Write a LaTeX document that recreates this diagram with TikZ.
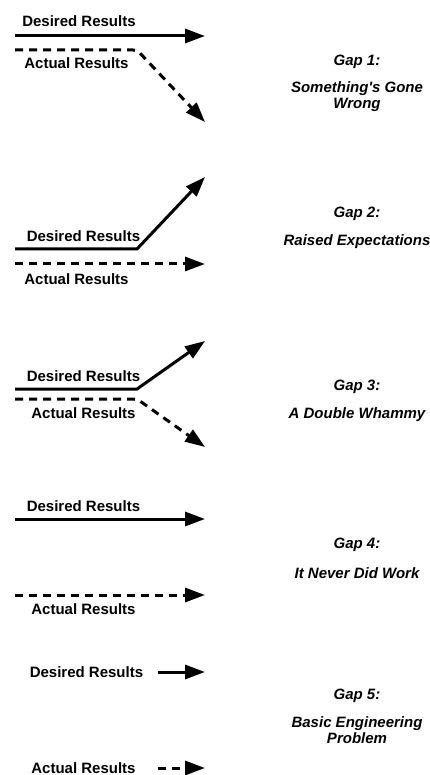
\documentclass[tikz,border=0pt]{standalone}
\usepackage{fontspec}
\setmainfont{Liberation Sans}
\usetikzlibrary{arrows.meta}

\begin{document}
\begin{tikzpicture}[x=1pt,y=-1pt,
  lbl/.style={inner sep=0pt,font=\bfseries\fontsize{15}{16}\selectfont},
  gaplbl/.style={inner sep=0pt,anchor=north,align=center,font=\bfseries\itshape\fontsize{15}{16}\selectfont},
  want/.style={line width=3pt,-{Triangle[length=20pt,width=14pt]}},
  got/.style={want,dash pattern=on 8pt off 6pt,rounded corners=4pt}]
\useasboundingbox (0,0) rectangle (429,775);

\node[lbl] (des1) at (79,21) {Desired Results};
\node[lbl] (act1) at (76.5,63) {Actual Results};
\coordinate (d1a) at (15,36);
\coordinate (d1b) at (205,36);
\coordinate (a1a) at (15,50);
\coordinate (a1k) at (137,50);
\coordinate (a1b) at (205,122);
\draw[want] (d1a) -- (d1b);
\draw[got] (a1a) -- (a1k) -- (a1b);
\node[gaplbl] (gap1) at (357,54.6) {Gap 1:};
\node[gaplbl] (why1) at (357,81.6) {Something\textquotesingle s Gone\\Wrong};

\node[lbl] (des2) at (83.5,236) {Desired Results};
\node[lbl] (act2) at (76.5,279) {Actual Results};
\coordinate (d2a) at (15,249);
\coordinate (d2k) at (137,249);
\coordinate (d2b) at (205,177);
\coordinate (a2a) at (15,264);
\coordinate (a2b) at (205,264);
\draw[want] (d2a) -- (d2k) -- (d2b);
\draw[got] (a2a) -- (a2b);
\node[gaplbl] (gap2) at (357,206.6) {Gap 2:};
\node[gaplbl] (why2) at (357,234.6) {Raised Expectations};

\node[lbl] (des3) at (83.5,376) {Desired Results};
\node[lbl] (act3) at (83.5,413) {Actual Results};
\coordinate (d3a) at (15,389);
\coordinate (d3k) at (137,389);
\coordinate (d3b) at (205,341);
\coordinate (a3a) at (15,399);
\coordinate (a3k) at (137,399);
\coordinate (a3b) at (205,447);
\draw[want] (d3a) -- (d3k) -- (d3b);
\draw[got] (a3a) -- (a3k) -- (a3b);
\node[gaplbl] (gap3) at (357,379.6) {Gap 3:};
\node[gaplbl] (why3) at (357,407.6) {A Double Whammy};

\node[lbl] (des4) at (83.5,506) {Desired Results};
\node[lbl] (act4) at (83.5,609) {Actual Results};
\coordinate (d4a) at (15,519);
\coordinate (d4b) at (205,519);
\coordinate (a4a) at (15,595);
\coordinate (a4b) at (205,595);
\draw[want] (d4a) -- (d4b);
\draw[got] (a4a) -- (a4b);
\node[gaplbl] (gap4) at (357,537.6) {Gap 4:};
\node[gaplbl] (why4) at (357,567.6) {It Never Did Work};

\node[lbl] (des5) at (86.5,672) {Desired Results};
\node[lbl] (act5) at (83.5,768) {Actual Results};
\coordinate (d5a) at (158,672);
\coordinate (d5b) at (205,672);
\coordinate (a5a) at (158,768);
\coordinate (a5b) at (205,768);
\draw[want] (d5a) -- (d5b);
\draw[got] (a5a) -- (a5b);
\node[gaplbl] (gap5) at (357,688.6) {Gap 5:};
\node[gaplbl] (why5) at (357,716.6) {Basic Engineering\\Problem};

\end{tikzpicture}
\end{document}
